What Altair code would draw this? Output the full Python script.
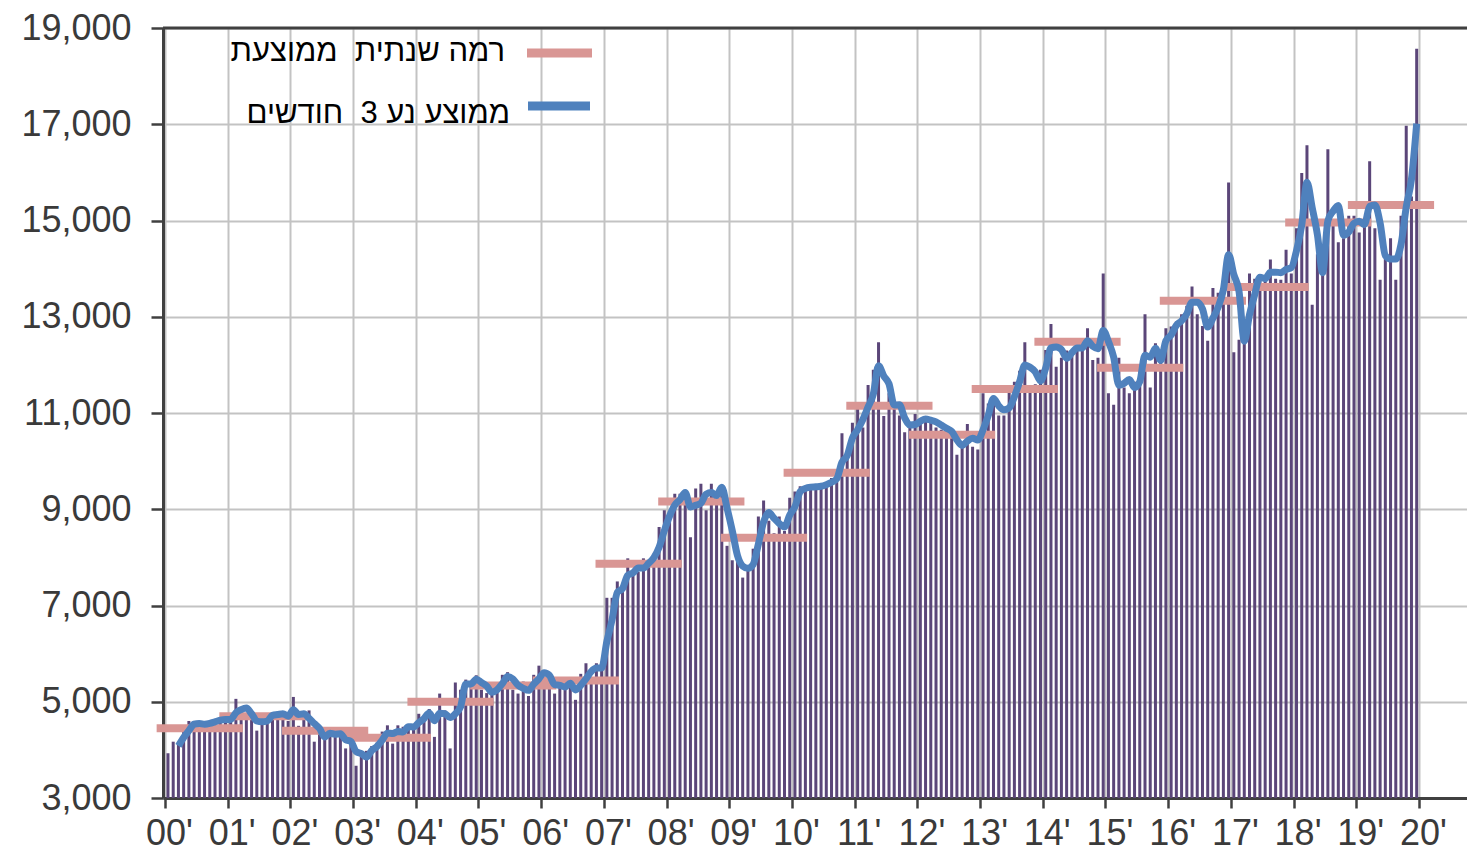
import altair as alt
import pandas as pd

# ---------------- data ----------------
year_labels = ["00'", "01'", "02'", "03'", "04'", "05'", "06'", "07'", "08'", "09'",
               "10'", "11'", "12'", "13'", "14'", "15'", "16'", "17'", "18'", "19'", "20'"]

m2000 = [3930, 4170, 4150, 4450, 4600, 4550, 4500, 4550, 4600, 4600, 4650, 4650]
m2001 = [4600, 5060, 4850, 4700, 4700, 4400, 4650, 4750, 4750, 4700, 4800, 4600]
m2002 = [5100, 4500, 4650, 4820, 4170, 4350, 4280, 4400, 4300, 4300, 4030, 4200]
m2003 = [3670, 3900, 3980, 4080, 4150, 4380, 4510, 4130, 4510, 4480, 4450, 4500]
m2004 = [4750, 4700, 4850, 4270, 5170, 4820, 4030, 5400, 5250, 5460, 5400, 5550]
m2005 = [5250, 5180, 5170, 5400, 5560, 5615, 5250, 5170, 5420, 5120, 5560, 5750]
m2006 = [5500, 5400, 5170, 5450, 5300, 5400, 5040, 5580, 5800, 5500, 5800, 5800]
m2007 = [7160, 7160, 7500, 7400, 7980, 7650, 7700, 7980, 7950, 8050, 8630, 8980]
m2008 = [8960, 9320, 9320, 9400, 8420, 9430, 9530, 8980, 9530, 9340, 9500, 8240]
m2009 = [7940, 7940, 7580, 7800, 8180, 8850, 9180, 8760, 8500, 8850, 8550, 9240]
m2010 = [9370, 9480, 9450, 9450, 9500, 9480, 9550, 9650, 9700, 10580, 10060, 10800]
m2011 = [11100, 10700, 11580, 11900, 12470, 10940, 11410, 11150, 10950, 10600, 10700, 10980]
m2012 = [10800, 10850, 10900, 10700, 10650, 10700, 10500, 10130, 10350, 10770, 10300, 10240]
m2013 = [11410, 11200, 11300, 10950, 10950, 11420, 11650, 11880, 12470, 11500, 11600, 11900]
m2014 = [12310, 12850, 11960, 12150, 12300, 12300, 12450, 12300, 12760, 12100, 12150, 13900]
m2015 = [11410, 11170, 12150, 11530, 11410, 11650, 11900, 13050, 11530, 12450, 12300, 12760]
m2016 = [12800, 12900, 13050, 13230, 13630, 13050, 12810, 12500, 13600, 13500, 13580, 15790]
m2017 = [12260, 12520, 12700, 13900, 13790, 13780, 13800, 14190, 13790, 13770, 14390, 13900]
m2018 = [14840, 15985, 16565, 13250, 14300, 14200, 16480, 14900, 14550, 14630, 15100, 15100]
m2019 = [14750, 14900, 16230, 14840, 13770, 14200, 14630, 13770, 15100, 16970, 15500, 18570]

annual_level = [4450, 4700, 4400, 4250, 5000, 5340, 5440, 7870, 9160, 8410,
                9760, 11150, 10550, 11500, 12480, 11940, 13330, 13620, 14960, 15320]

legend_annual = "רמה שנתית\u00a0 ממוצעת"
legend_ma = "ממוצע נע 3\u00a0 חודשים"

y_ticks = [3000, 5000, 7000, 9000, 11000, 13000, 15000, 17000, 19000]

# ---------------- tables ----------------
monthly = (m2000 + m2001 + m2002 + m2003 + m2004 + m2005 + m2006 + m2007 + m2008 + m2009 +
           m2010 + m2011 + m2012 + m2013 + m2014 + m2015 + m2016 + m2017 + m2018 + m2019)
df = pd.DataFrame({"m": [i + 0.57 for i in range(len(monthly))], "v": monthly})
ann = pd.DataFrame({
    "x": [12 * k - 1.6 for k in range(len(annual_level))],
    "x2": [12 * k + 14.9 for k in range(len(annual_level))],
    "v": annual_level,
})
one = pd.DataFrame({"a": [0]})

W, H = 1304, 770
TOP = 20
FONT = "Liberation Sans, Arial, DejaVu Sans, sans-serif"
label_expr = "[" + ",".join('"%s"' % s for s in year_labels) + "][round(datum.value/12)]"

xscale = alt.Scale(domain=[-0.383, 249.2], nice=False, zero=False)
yscale = alt.Scale(domain=[3000, 19000], nice=False, zero=False)

x_axis = alt.Axis(values=list(range(0, 241, 12)), labelExpr=label_expr, title=None,
                  grid=True, tickSize=10, labelPadding=8, labelOffset=4,
                  labelFontSize=36)
y_axis = alt.Axis(values=y_ticks, format=",d", title=None, grid=True,
                  tickSize=12, labelPadding=20, labelFontSize=36)

bars = alt.Chart(df).mark_rule(color="#5b4679", strokeWidth=3).encode(
    x=alt.X("m:Q", scale=xscale, axis=x_axis),
    y=alt.Y("v:Q", scale=yscale, axis=y_axis),
    y2=alt.datum(3000),
)

levels = alt.Chart(ann).mark_rule(color="#d99694", strokeWidth=8).encode(
    x=alt.X("x:Q", scale=xscale),
    x2="x2:Q",
    y=alt.Y("v:Q", scale=yscale),
)

ma = alt.Chart(df).transform_window(
    ma="mean(v)", cnt="count()", frame=[-2, 0], sort=[alt.SortField("m")]
).transform_filter("datum.cnt == 3").mark_line(
    color="#4f81bd", strokeWidth=7, interpolate="monotone"
).encode(
    x=alt.X("m:Q", scale=xscale),
    y=alt.Y("ma:Q", scale=yscale),
)

top_border = alt.Chart(one).mark_rule(color="#404040", strokeWidth=3).encode(
    x=alt.value(0), x2=alt.value(W), y=alt.value(0)
)

leg_line1 = alt.Chart(one).mark_rule(color="#d99694", strokeWidth=9).encode(
    x=alt.value(364), x2=alt.value(429), y=alt.value(25)
)
leg_line2 = alt.Chart(one).mark_rule(color="#4f81bd", strokeWidth=9).encode(
    x=alt.value(365), x2=alt.value(427), y=alt.value(78)
)
leg_text1 = alt.Chart(one).mark_text(
    text=legend_annual, align="right", baseline="alphabetic", fontSize=31,
    font=FONT, color="#000000"
).encode(x=alt.value(342), y=alt.value(33))
leg_text2 = alt.Chart(one).mark_text(
    text=legend_ma, align="right", baseline="alphabetic", fontSize=31,
    font=FONT, color="#000000"
).encode(x=alt.value(347), y=alt.value(95))

chart = alt.layer(
    bars, levels, ma, top_border, leg_line1, leg_line2, leg_text1, leg_text2
).properties(
    width=W, height=H,
    padding={"left": 155, "top": TOP, "right": 0, "bottom": 54},
    autosize="none",
    background="white",
).configure_view(stroke=None).configure_axis(
    gridColor="#c3c3c3", gridWidth=2,
    domainColor="#404040", domainWidth=3,
    tickColor="#404040", tickWidth=2.5,
    labelFont=FONT, labelColor="#3a3a3a",
)

chart.save("out.html", embed_options={"renderer": "svg", "actions": False})
